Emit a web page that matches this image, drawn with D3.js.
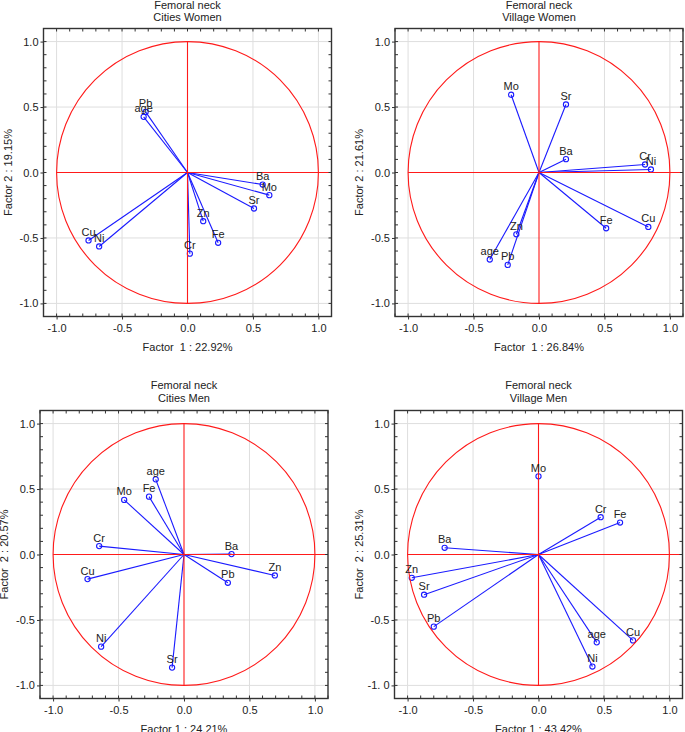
<!DOCTYPE html>
<html>
<head>
<meta charset="utf-8">
<script src="https://cdn.jsdelivr.net/npm/d3@7"></script>
<style>
  html, body { margin: 0; padding: 0; background: #fff; }
  svg { display: block; }
  text { font-family: "Liberation Sans", Arial, sans-serif; fill: #222; }
</style>
</head>
<body>
<svg id="chart" width="685" height="732"></svg>
<script>
// ---------- DATA ----------
const titleTop = "Femoral neck";
const groups = ["Cities Women", "Village Women", "Cities Men", "Village Men"];
const xAxisLabels = ["Factor  1 : 22.92%", "Factor  1 : 26.84%", "Factor 1 : 24.21%", "Factor 1 : 43.42%"];
const yAxisLabels = ["Factor 2 : 19.15%", "Factor 2 : 21.61%", "Factor  2 : 20.57%", "Factor  2 : 25.31%"];

const tickValues = [-1, -0.5, 0, 0.5, 1];
const xTickLabels = ["-1.0", "-0.5", "0.0", "0.5", "1.0"];
const yTickLabels = ["-1.0", "-0.5", "0.0", "0.5", "1.0"];
const yTickLabelsVillageMen = ["-1. 0", "-0.5", "0.0", "0.5", "1.0"];

// Cities Women
const cwVars = ["Pb", "age", "Ba", "Mo", "Sr", "Zn", "Fe", "Cr", "Cu", "Ni"];
const cwF1 = [-0.32, -0.335, 0.574, 0.625, 0.508, 0.12, 0.234, 0.018, -0.756, -0.675];
const cwF2 = [0.463, 0.425, -0.092, -0.173, -0.275, -0.372, -0.537, -0.62, -0.519, -0.565];

// Village Women
const vwVars = ["Mo", "Sr", "Ba", "Cr", "Ni", "Cu", "Fe", "Zn", "Pb", "age"];
const vwF1 = [-0.213, 0.206, 0.206, 0.81, 0.855, 0.835, 0.513, -0.173, -0.239, -0.376];
const vwF2 = [0.594, 0.52, 0.102, 0.061, 0.023, -0.416, -0.426, -0.472, -0.706, -0.665];

// Cities Men
const cmVars = ["age", "Fe", "Mo", "Cr", "Cu", "Ni", "Sr", "Pb", "Ba", "Zn"];
const cmF1 = [-0.216, -0.267, -0.457, -0.648, -0.737, -0.633, -0.091, 0.335, 0.363, 0.694];
const cmF2 = [0.574, 0.442, 0.417, 0.064, -0.188, -0.704, -0.864, -0.216, 0.003, -0.16];

// Village Men
const vmVars = ["Mo", "Cr", "Fe", "Ba", "Zn", "Sr", "Pb", "age", "Ni", "Cu"];
const vmF1 = [0.0, 0.475, 0.623, -0.717, -0.968, -0.874, -0.8, 0.445, 0.412, 0.722];
const vmF2 = [0.597, 0.285, 0.244, 0.051, -0.178, -0.307, -0.551, -0.671, -0.856, -0.656];

// ---------- LAYOUT ----------
const panels = [
  { vars: cwVars, f1: cwF1, f2: cwF2, left: 43.5, top: 28.5, t1: 8.5, t2: 20.5, yTicks: yTickLabels },
  { vars: vwVars, f1: vwF1, f2: vwF2, left: 395, top: 28.5, t1: 8.5, t2: 20.5, yTicks: yTickLabels },
  { vars: cmVars, f1: cmF1, f2: cmF2, left: 40, top: 410.5, t1: 389, t2: 401.5, yTicks: yTickLabels },
  { vars: vmVars, f1: vmF1, f2: vmF2, left: 394.5, top: 410.5, t1: 389, t2: 401.5, yTicks: yTickLabelsVillageMen }
];
const size = 288;
const RED = "#ff1a1a", BLUE = "#1a1aff";

const svg = d3.select("#chart");

panels.forEach((p, i) => {
  const x = d3.scaleLinear().domain([-1.1, 1.1]).range([0, size]);
  const y = d3.scaleLinear().domain([-1.1, 1.1]).range([size, 0]);
  const g = svg.append("g").attr("transform", `translate(${p.left},${p.top})`);

  // grid
  g.append("g").selectAll("line.gx").data(tickValues.filter(v => v !== 0)).join("line")
    .attr("x1", d => x(d)).attr("x2", d => x(d)).attr("y1", 0).attr("y2", size)
    .attr("stroke", "#dedede").attr("stroke-width", 1);
  g.append("g").selectAll("line.gy").data(tickValues.filter(v => v !== 0)).join("line")
    .attr("y1", d => y(d)).attr("y2", d => y(d)).attr("x1", 0).attr("x2", size)
    .attr("stroke", "#dedede").attr("stroke-width", 1);

  const data = p.vars.map((v, k) => ({ name: v, a: p.f1[k], b: p.f2[k] }));

  // vectors
  g.append("g").selectAll("line").data(data).join("line")
    .attr("x1", x(0)).attr("y1", y(0))
    .attr("x2", d => x(d.a)).attr("y2", d => y(d.b))
    .attr("stroke", BLUE).attr("stroke-width", 1.1);

  g.append("g").selectAll("circle").data(data).join("circle")
    .attr("cx", d => x(d.a)).attr("cy", d => y(d.b)).attr("r", 2.6)
    .attr("fill", "none").attr("stroke", BLUE).attr("stroke-width", 1.1);

  // red unit circle and cross
  g.append("circle").attr("cx", x(0)).attr("cy", y(0)).attr("r", x(1) - x(0))
    .attr("fill", "none").attr("stroke", RED).attr("stroke-width", 1.1);
  g.append("line").attr("x1", x(-1)).attr("x2", size).attr("y1", y(0)).attr("y2", y(0))
    .attr("stroke", RED).attr("stroke-width", 1.1);
  g.append("line").attr("x1", x(0)).attr("x2", x(0)).attr("y1", y(1)).attr("y2", y(-1))
    .attr("stroke", RED).attr("stroke-width", 1.1);

  // variable labels
  g.append("g").selectAll("text").data(data).join("text")
    .attr("x", d => x(d.a)).attr("y", d => y(d.b) - 4.5)
    .attr("text-anchor", "middle").attr("font-size", 11)
    .text(d => d.name);

  // minor ticks (inward) on all sides
  const minor = d3.range(-11, 12).map(v => v / 10);
  const mt = g.append("g").attr("stroke", "#333").attr("stroke-width", 1);
  minor.forEach(v => {
    mt.append("line").attr("x1", 0).attr("x2", 3).attr("y1", y(v)).attr("y2", y(v));
    mt.append("line").attr("x1", size).attr("x2", size - 3).attr("y1", y(v)).attr("y2", y(v));
    mt.append("line").attr("y1", 0).attr("y2", 3).attr("x1", x(v)).attr("x2", x(v));
    mt.append("line").attr("y1", size).attr("y2", size - 3).attr("x1", x(v)).attr("x2", x(v));
  });

  // axes
  const xAxis = d3.axisBottom(x).tickValues(tickValues).tickSize(3).tickPadding(5)
    .tickFormat((d, k) => xTickLabels[k]);
  const yAxis = d3.axisLeft(y).tickValues(tickValues).tickSize(3).tickPadding(2)
    .tickFormat((d, k) => p.yTicks[k]);
  const ax = g.append("g").attr("transform", `translate(0,${size})`).call(xAxis);
  const ay = g.append("g").call(yAxis);
  [ax, ay].forEach(a => {
    a.select(".domain").remove();
    a.selectAll("line").attr("stroke", "#333");
    a.selectAll("text").attr("font-size", 11).attr("font-family", "Liberation Sans, Arial, sans-serif").attr("fill", "#222");
  });

  // frame
  g.append("rect").attr("x", 0).attr("y", 0).attr("width", size).attr("height", size)
    .attr("fill", "none").attr("stroke", "#333").attr("stroke-width", 1.4);

  // titles
  const cx = p.left + size / 2;
  svg.append("text").attr("x", cx).attr("y", p.t1).attr("text-anchor", "middle")
    .attr("font-size", 11).text(titleTop);
  svg.append("text").attr("x", cx).attr("y", p.t2).attr("text-anchor", "middle")
    .attr("font-size", 11).text(groups[i]);

  // axis titles
  svg.append("text").attr("x", cx).attr("y", p.top + size + 34).attr("text-anchor", "middle")
    .attr("font-size", 11).attr("xml:space", "preserve").style("white-space", "pre").text(xAxisLabels[i]);
  svg.append("text").attr("transform", `translate(${p.left - 32},${p.top + size / 2}) rotate(-90)`)
    .attr("text-anchor", "middle").attr("font-size", 11).style("white-space", "pre").text(yAxisLabels[i]);
});
</script>
</body>
</html>
